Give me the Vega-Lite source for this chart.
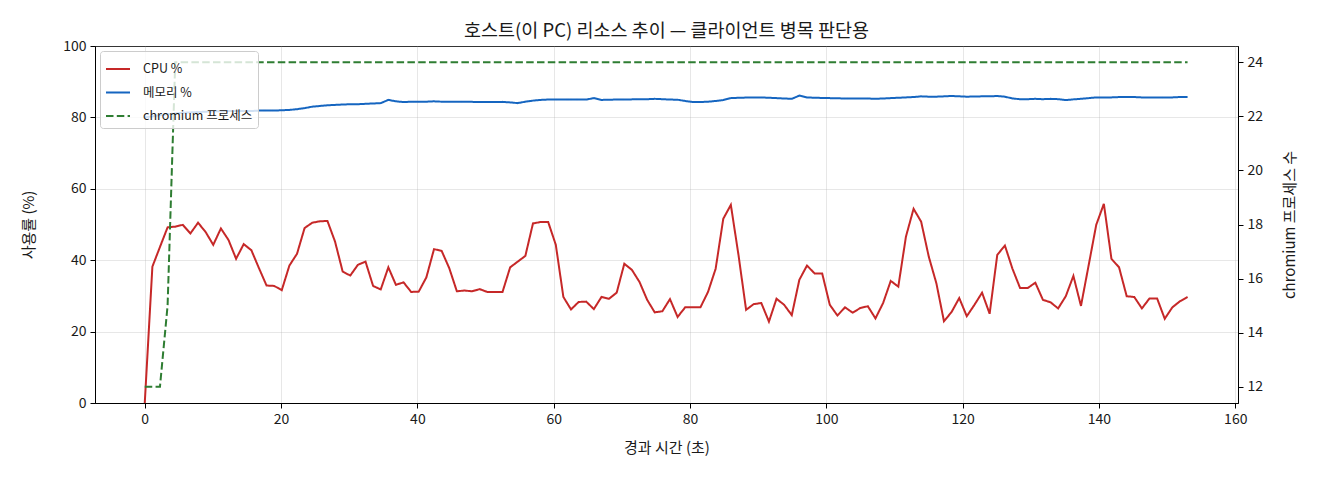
{
  "$schema": "https://vega.github.io/schema/vega-lite/v6.json",
  "width": 1143,
  "height": 357,
  "autosize": {"type": "none"},
  "padding": {"left": 95, "top": 46, "right": 82, "bottom": 77},
  "background": "white",
  "config": {
    "font": "Noto Sans CJK KR",
    "view": {"stroke": "#000000", "strokeWidth": 1},
    "axis": {
      "domainColor": "#000000",
      "tickColor": "#000000",
      "labelColor": "#1a1a1a",
      "titleColor": "#1a1a1a",
      "tickSize": 5,
      "labelFontSize": 14,
      "titleFontSize": 15,
      "titleFontWeight": "normal",
      "labelPadding": 4,
      "gridColor": "#b0b0b0",
      "gridOpacity": 0.3,
      "gridWidth": 1
    },
    "legend": {
      "orient": "top-left",
      "offset": 5,
      "fillColor": "rgba(255,255,255,0.8)",
      "strokeColor": "#cccccc",
      "cornerRadius": 3,
      "padding": 5,
      "symbolType": "stroke",
      "symbolSize": 576,
      "symbolStrokeWidth": 2,
      "labelFontSize": 12.5,
      "labelColor": "#1a1a1a",
      "labelOffset": 12,
      "rowPadding": 3.5
    }
  },
  "title": {
    "text": "호스트(이 PC) 리소스 추이 — 클라이언트 병목 판단용",
    "fontSize": 18.5,
    "fontWeight": "normal",
    "color": "#1a1a1a",
    "offset": -1,
    "anchor": "middle"
  },
  "data": {
    "values": [
      {"t": 0, "CPU %": 0, "메모리 %": 80.0, "chromium 프로세스": 12},
      {"t": 1.12, "CPU %": 38.2, "메모리 %": 80.3, "chromium 프로세스": 12},
      {"t": 2.23, "CPU %": 43.7, "메모리 %": 80.6, "chromium 프로세스": 12},
      {"t": 3.35, "CPU %": 49.2, "메모리 %": 80.9, "chromium 프로세스": 15},
      {"t": 4.47, "CPU %": 49.4, "메모리 %": 81.1, "chromium 프로세스": 24},
      {"t": 5.58, "CPU %": 49.9, "메모리 %": 81.3, "chromium 프로세스": 24},
      {"t": 6.70, "CPU %": 47.5, "메모리 %": 81.4, "chromium 프로세스": 24},
      {"t": 7.82, "CPU %": 50.5, "메모리 %": 81.5, "chromium 프로세스": 24},
      {"t": 8.93, "CPU %": 47.9, "메모리 %": 81.6, "chromium 프로세스": 24},
      {"t": 10.05, "CPU %": 44.3, "메모리 %": 81.7, "chromium 프로세스": 24},
      {"t": 11.17, "CPU %": 48.9, "메모리 %": 81.7, "chromium 프로세스": 24},
      {"t": 12.28, "CPU %": 45.7, "메모리 %": 81.8, "chromium 프로세스": 24},
      {"t": 13.40, "CPU %": 40.4, "메모리 %": 81.8, "chromium 프로세스": 24},
      {"t": 14.52, "CPU %": 44.5, "메모리 %": 81.8, "chromium 프로세스": 24},
      {"t": 15.64, "CPU %": 42.8, "메모리 %": 81.8, "chromium 프로세스": 24},
      {"t": 16.75, "CPU %": 37.8, "메모리 %": 81.9, "chromium 프로세스": 24},
      {"t": 17.87, "CPU %": 32.9, "메모리 %": 81.9, "chromium 프로세스": 24},
      {"t": 18.99, "CPU %": 32.8, "메모리 %": 81.9, "chromium 프로세스": 24},
      {"t": 20.10, "CPU %": 31.6, "메모리 %": 82.0, "chromium 프로세스": 24},
      {"t": 21.22, "CPU %": 38.5, "메모리 %": 82.1, "chromium 프로세스": 24},
      {"t": 22.34, "CPU %": 41.8, "메모리 %": 82.3, "chromium 프로세스": 24},
      {"t": 23.45, "CPU %": 49.0, "메모리 %": 82.6, "chromium 프로세스": 24},
      {"t": 24.57, "CPU %": 50.5, "메모리 %": 83.0, "chromium 프로세스": 24},
      {"t": 25.69, "CPU %": 50.9, "메모리 %": 83.2, "chromium 프로세스": 24},
      {"t": 26.80, "CPU %": 51.0, "메모리 %": 83.4, "chromium 프로세스": 24},
      {"t": 27.92, "CPU %": 45.2, "메모리 %": 83.5, "chromium 프로세스": 24},
      {"t": 29.04, "CPU %": 36.8, "메모리 %": 83.6, "chromium 프로세스": 24},
      {"t": 30.15, "CPU %": 35.7, "메모리 %": 83.7, "chromium 프로세스": 24},
      {"t": 31.27, "CPU %": 38.7, "메모리 %": 83.7, "chromium 프로세스": 24},
      {"t": 32.39, "CPU %": 39.6, "메모리 %": 83.8, "chromium 프로세스": 24},
      {"t": 33.50, "CPU %": 32.8, "메모리 %": 83.9, "chromium 프로세스": 24},
      {"t": 34.62, "CPU %": 31.8, "메모리 %": 84.0, "chromium 프로세스": 24},
      {"t": 35.74, "CPU %": 38.0, "메모리 %": 84.9, "chromium 프로세스": 24},
      {"t": 36.85, "CPU %": 33.1, "메모리 %": 84.5, "chromium 프로세스": 24},
      {"t": 37.97, "CPU %": 33.8, "메모리 %": 84.3, "chromium 프로세스": 24},
      {"t": 39.09, "CPU %": 31.1, "메모리 %": 84.4, "chromium 프로세스": 24},
      {"t": 40.20, "CPU %": 31.2, "메모리 %": 84.4, "chromium 프로세스": 24},
      {"t": 41.32, "CPU %": 35.2, "메모리 %": 84.4, "chromium 프로세스": 24},
      {"t": 42.44, "CPU %": 43.1, "메모리 %": 84.5, "chromium 프로세스": 24},
      {"t": 43.56, "CPU %": 42.6, "메모리 %": 84.4, "chromium 프로세스": 24},
      {"t": 44.67, "CPU %": 37.8, "메모리 %": 84.4, "chromium 프로세스": 24},
      {"t": 45.79, "CPU %": 31.3, "메모리 %": 84.4, "chromium 프로세스": 24},
      {"t": 46.91, "CPU %": 31.5, "메모리 %": 84.4, "chromium 프로세스": 24},
      {"t": 48.02, "CPU %": 31.3, "메모리 %": 84.35, "chromium 프로세스": 24},
      {"t": 49.14, "CPU %": 31.9, "메모리 %": 84.3, "chromium 프로세스": 24},
      {"t": 50.26, "CPU %": 31.1, "메모리 %": 84.3, "chromium 프로세스": 24},
      {"t": 51.37, "CPU %": 31.1, "메모리 %": 84.3, "chromium 프로세스": 24},
      {"t": 52.49, "CPU %": 31.1, "메모리 %": 84.35, "chromium 프로세스": 24},
      {"t": 53.61, "CPU %": 38.0, "메모리 %": 84.2, "chromium 프로세스": 24},
      {"t": 54.72, "CPU %": 39.6, "메모리 %": 84.0, "chromium 프로세스": 24},
      {"t": 55.84, "CPU %": 41.2, "메모리 %": 84.4, "chromium 프로세스": 24},
      {"t": 56.96, "CPU %": 50.3, "메모리 %": 84.7, "chromium 프로세스": 24},
      {"t": 58.07, "CPU %": 50.7, "메모리 %": 84.9, "chromium 프로세스": 24},
      {"t": 59.19, "CPU %": 50.7, "메모리 %": 85.0, "chromium 프로세스": 24},
      {"t": 60.31, "CPU %": 44.3, "메모리 %": 85.0, "chromium 프로세스": 24},
      {"t": 61.42, "CPU %": 29.7, "메모리 %": 85.0, "chromium 프로세스": 24},
      {"t": 62.54, "CPU %": 26.2, "메모리 %": 85.0, "chromium 프로세스": 24},
      {"t": 63.66, "CPU %": 28.3, "메모리 %": 85.0, "chromium 프로세스": 24},
      {"t": 64.77, "CPU %": 28.4, "메모리 %": 85.0, "chromium 프로세스": 24},
      {"t": 65.89, "CPU %": 26.3, "메모리 %": 85.4, "chromium 프로세스": 24},
      {"t": 67.01, "CPU %": 29.7, "메모리 %": 84.9, "chromium 프로세스": 24},
      {"t": 68.12, "CPU %": 29.2, "메모리 %": 84.95, "chromium 프로세스": 24},
      {"t": 69.24, "CPU %": 30.9, "메모리 %": 85.0, "chromium 프로세스": 24},
      {"t": 70.36, "CPU %": 39.0, "메모리 %": 85.0, "chromium 프로세스": 24},
      {"t": 71.47, "CPU %": 37.3, "메모리 %": 85.05, "chromium 프로세스": 24},
      {"t": 72.59, "CPU %": 33.9, "메모리 %": 85.1, "chromium 프로세스": 24},
      {"t": 73.71, "CPU %": 28.9, "메모리 %": 85.1, "chromium 프로세스": 24},
      {"t": 74.82, "CPU %": 25.4, "메모리 %": 85.2, "chromium 프로세스": 24},
      {"t": 75.94, "CPU %": 25.7, "메모리 %": 85.1, "chromium 프로세스": 24},
      {"t": 77.06, "CPU %": 29.1, "메모리 %": 85.0, "chromium 프로세스": 24},
      {"t": 78.18, "CPU %": 24.1, "메모리 %": 84.95, "chromium 프로세스": 24},
      {"t": 79.29, "CPU %": 26.8, "메모리 %": 84.6, "chromium 프로세스": 24},
      {"t": 80.41, "CPU %": 26.8, "메모리 %": 84.3, "chromium 프로세스": 24},
      {"t": 81.53, "CPU %": 26.8, "메모리 %": 84.3, "chromium 프로세스": 24},
      {"t": 82.64, "CPU %": 31.1, "메모리 %": 84.4, "chromium 프로세스": 24},
      {"t": 83.76, "CPU %": 37.6, "메모리 %": 84.6, "chromium 프로세스": 24},
      {"t": 84.88, "CPU %": 51.6, "메모리 %": 84.85, "chromium 프로세스": 24},
      {"t": 85.99, "CPU %": 55.5, "메모리 %": 85.4, "chromium 프로세스": 24},
      {"t": 87.11, "CPU %": 41.5, "메모리 %": 85.5, "chromium 프로세스": 24},
      {"t": 88.23, "CPU %": 26.1, "메모리 %": 85.55, "chromium 프로세스": 24},
      {"t": 89.34, "CPU %": 27.7, "메모리 %": 85.55, "chromium 프로세스": 24},
      {"t": 90.46, "CPU %": 28.0, "메모리 %": 85.6, "chromium 프로세스": 24},
      {"t": 91.58, "CPU %": 22.8, "메모리 %": 85.5, "chromium 프로세스": 24},
      {"t": 92.69, "CPU %": 29.2, "메모리 %": 85.4, "chromium 프로세스": 24},
      {"t": 93.81, "CPU %": 27.5, "메모리 %": 85.3, "chromium 프로세스": 24},
      {"t": 94.93, "CPU %": 24.6, "메모리 %": 85.2, "chromium 프로세스": 24},
      {"t": 96.04, "CPU %": 34.5, "메모리 %": 86.1, "chromium 프로세스": 24},
      {"t": 97.16, "CPU %": 38.5, "메모리 %": 85.6, "chromium 프로세스": 24},
      {"t": 98.28, "CPU %": 36.3, "메모리 %": 85.5, "chromium 프로세스": 24},
      {"t": 99.39, "CPU %": 36.3, "메모리 %": 85.45, "chromium 프로세스": 24},
      {"t": 100.51, "CPU %": 27.5, "메모리 %": 85.4, "chromium 프로세스": 24},
      {"t": 101.63, "CPU %": 24.5, "메모리 %": 85.35, "chromium 프로세스": 24},
      {"t": 102.74, "CPU %": 26.8, "메모리 %": 85.3, "chromium 프로세스": 24},
      {"t": 103.86, "CPU %": 25.3, "메모리 %": 85.3, "chromium 프로세스": 24},
      {"t": 104.98, "CPU %": 26.6, "메모리 %": 85.3, "chromium 프로세스": 24},
      {"t": 106.09, "CPU %": 27.1, "메모리 %": 85.3, "chromium 프로세스": 24},
      {"t": 107.21, "CPU %": 23.7, "메모리 %": 85.2, "chromium 프로세스": 24},
      {"t": 108.33, "CPU %": 28.0, "메모리 %": 85.3, "chromium 프로세스": 24},
      {"t": 109.45, "CPU %": 34.2, "메모리 %": 85.4, "chromium 프로세스": 24},
      {"t": 110.56, "CPU %": 32.6, "메모리 %": 85.5, "chromium 프로세스": 24},
      {"t": 111.68, "CPU %": 46.6, "메모리 %": 85.6, "chromium 프로세스": 24},
      {"t": 112.80, "CPU %": 54.4, "메모리 %": 85.7, "chromium 프로세스": 24},
      {"t": 113.91, "CPU %": 50.8, "메모리 %": 85.9, "chromium 프로세스": 24},
      {"t": 115.03, "CPU %": 41.0, "메모리 %": 85.8, "chromium 프로세스": 24},
      {"t": 116.15, "CPU %": 33.5, "메모리 %": 85.8, "chromium 프로세스": 24},
      {"t": 117.26, "CPU %": 22.9, "메모리 %": 85.9, "chromium 프로세스": 24},
      {"t": 118.38, "CPU %": 25.5, "메모리 %": 86.0, "chromium 프로세스": 24},
      {"t": 119.50, "CPU %": 29.4, "메모리 %": 85.9, "chromium 프로세스": 24},
      {"t": 120.61, "CPU %": 24.3, "메모리 %": 85.8, "chromium 프로세스": 24},
      {"t": 121.73, "CPU %": 27.5, "메모리 %": 85.85, "chromium 프로세스": 24},
      {"t": 122.85, "CPU %": 30.9, "메모리 %": 85.9, "chromium 프로세스": 24},
      {"t": 123.96, "CPU %": 25.0, "메모리 %": 85.9, "chromium 프로세스": 24},
      {"t": 125.08, "CPU %": 41.5, "메모리 %": 86.0, "chromium 프로세스": 24},
      {"t": 126.20, "CPU %": 44.1, "메모리 %": 85.8, "chromium 프로세스": 24},
      {"t": 127.31, "CPU %": 37.6, "메모리 %": 85.3, "chromium 프로세스": 24},
      {"t": 128.43, "CPU %": 32.2, "메모리 %": 85.1, "chromium 프로세스": 24},
      {"t": 129.55, "CPU %": 32.2, "메모리 %": 85.1, "chromium 프로세스": 24},
      {"t": 130.66, "CPU %": 33.7, "메모리 %": 85.2, "chromium 프로세스": 24},
      {"t": 131.78, "CPU %": 28.9, "메모리 %": 85.1, "chromium 프로세스": 24},
      {"t": 132.90, "CPU %": 28.2, "메모리 %": 85.2, "chromium 프로세스": 24},
      {"t": 134.01, "CPU %": 26.5, "메모리 %": 85.1, "chromium 프로세스": 24},
      {"t": 135.13, "CPU %": 29.9, "메모리 %": 84.85, "chromium 프로세스": 24},
      {"t": 136.25, "CPU %": 35.6, "메모리 %": 85.05, "chromium 프로세스": 24},
      {"t": 137.36, "CPU %": 27.2, "메모리 %": 85.2, "chromium 프로세스": 24},
      {"t": 138.48, "CPU %": 38.5, "메모리 %": 85.4, "chromium 프로세스": 24},
      {"t": 139.60, "CPU %": 49.9, "메모리 %": 85.6, "chromium 프로세스": 24},
      {"t": 140.72, "CPU %": 55.8, "메모리 %": 85.6, "chromium 프로세스": 24},
      {"t": 141.83, "CPU %": 40.4, "메모리 %": 85.6, "chromium 프로세스": 24},
      {"t": 142.95, "CPU %": 38.0, "메모리 %": 85.7, "chromium 프로세스": 24},
      {"t": 144.07, "CPU %": 29.9, "메모리 %": 85.7, "chromium 프로세스": 24},
      {"t": 145.18, "CPU %": 29.7, "메모리 %": 85.7, "chromium 프로세스": 24},
      {"t": 146.30, "CPU %": 26.5, "메모리 %": 85.6, "chromium 프로세스": 24},
      {"t": 147.42, "CPU %": 29.3, "메모리 %": 85.6, "chromium 프로세스": 24},
      {"t": 148.53, "CPU %": 29.3, "메모리 %": 85.55, "chromium 프로세스": 24},
      {"t": 149.65, "CPU %": 23.6, "메모리 %": 85.55, "chromium 프로세스": 24},
      {"t": 150.77, "CPU %": 26.8, "메모리 %": 85.6, "chromium 프로세스": 24},
      {"t": 151.88, "CPU %": 28.5, "메모리 %": 85.7, "chromium 프로세스": 24},
      {"t": 153.00, "CPU %": 29.7, "메모리 %": 85.7, "chromium 프로세스": 24}
    ]
  },
  "layer": [
    {
      "transform": [{"fold": ["CPU %", "메모리 %"], "as": ["series", "value"]}],
      "mark": {"type": "line", "strokeWidth": 2, "clip": true},
      "encoding": {
        "x": {
          "field": "t", "type": "quantitative",
          "scale": {"domain": [-7.3, 160.4], "nice": false, "zero": false},
          "axis": {"title": "경과 시간 (초)", "values": [0, 20, 40, 60, 80, 100, 120, 140, 160], "grid": true, "titlePadding": 14, "labelFlush": false}
        },
        "y": {
          "field": "value", "type": "quantitative",
          "scale": {"domain": [0, 100], "nice": false, "zero": false},
          "axis": {"orient": "left", "title": "사용률 (%)", "values": [0, 20, 40, 60, 80, 100], "grid": true, "titlePadding": 26}
        },
        "color": {
          "field": "series", "type": "nominal",
          "scale": {"domain": ["CPU %", "메모리 %", "chromium 프로세스"], "range": ["#c62828", "#1565c0", "#2e7d32"]},
          "legend": {"title": null}
        },
        "strokeDash": {
          "field": "series", "type": "nominal",
          "scale": {"domain": ["CPU %", "메모리 %", "chromium 프로세스"], "range": [[1, 0], [1, 0], [7.5, 3.3]]},
          "legend": {"title": null}
        }
      }
    },
    {
      "transform": [{"fold": ["chromium 프로세스"], "as": ["series", "value"]}],
      "mark": {"type": "line", "strokeWidth": 2, "clip": true},
      "encoding": {
        "x": {"field": "t", "type": "quantitative"},
        "y": {
          "field": "value", "type": "quantitative",
          "scale": {"domain": [11.4, 24.6], "nice": false, "zero": false},
          "axis": {"orient": "right", "title": "chromium 프로세스 수", "titleAngle": 270, "titleBaseline": "top", "values": [12, 14, 16, 18, 20, 22, 24], "grid": false, "titlePadding": 20}
        },
        "color": {"field": "series", "type": "nominal"},
        "strokeDash": {"field": "series", "type": "nominal"}
      }
    }
  ],
  "resolve": {"scale": {"y": "independent"}}
}
